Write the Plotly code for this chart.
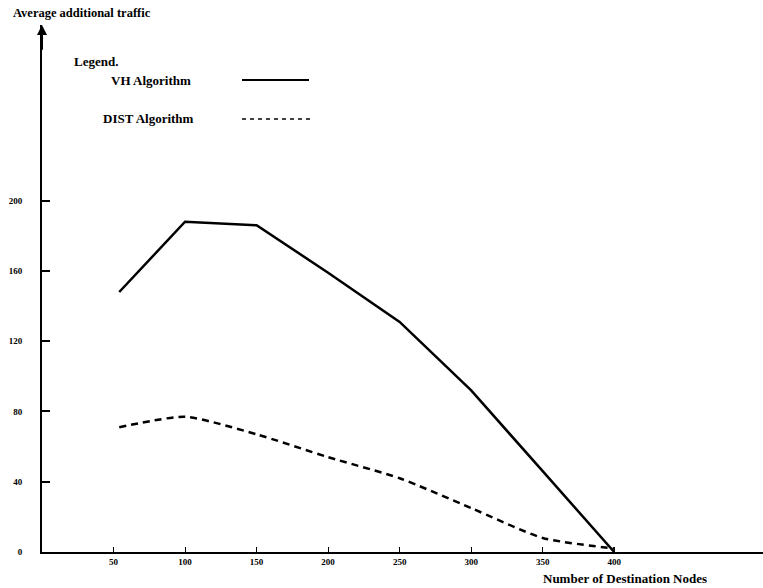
import plotly.graph_objects as go

# Data
nodes = [54, 100, 150, 200, 250, 300, 350, 400]
vh_traffic = [148, 188, 186, 159, 131, 92, 46, 0]
dist_traffic = [71, 77, 67, 54, 42, 25, 8, 2]

x_ticks = [50, 100, 150, 200, 250, 300, 350, 400]
x_tick_labels = ["<b>50</b>", "<b>100</b>", "<b>150</b>", "<b>200</b>", "<b>250</b>",
                 "<b>300</b>", "<b>350</b>", "<b>400</b>"]
y_ticks = [0, 40, 80, 120, 160, 200]
y_tick_labels = ["<b>0</b>", "<b>40</b>", "<b>80</b>", "<b>120</b>", "<b>160</b>", "<b>200</b>"]

FONT = "Liberation Serif"
W, H = 763, 588
L, R, T, B = 42, 0, 25, 36
PW, PH = W - L - R, H - T - B


def px(xp):
    return (xp - L) / PW


def py(yp):
    return (H - B - yp) / PH


fig = go.Figure()
fig.add_trace(go.Scatter(x=nodes, y=vh_traffic, mode="lines", name="VH Algorithm",
                         line=dict(color="black", width=2.5), showlegend=False))
fig.add_trace(go.Scatter(x=nodes, y=dist_traffic, mode="lines", name="DIST Algorithm",
                         line=dict(color="black", width=2.5, dash="7px,5px", shape="spline", smoothing=0.6),
                         showlegend=False))

fig.update_layout(
    width=W, height=H,
    margin=dict(l=L, r=R, t=T, b=B, autoexpand=False),
    paper_bgcolor="white", plot_bgcolor="white",
    font=dict(family=FONT, color="black", size=9),
    xaxis=dict(range=[0, 504], tickvals=x_ticks, ticktext=x_tick_labels,
               showgrid=False, zeroline=False, showline=True, linecolor="black", linewidth=2,
               ticks="inside", ticklen=5, tickwidth=1, tickcolor="black",
               tickfont=dict(family=FONT, size=9, color="black")),
    yaxis=dict(range=[0, 300], tickvals=y_ticks, ticktext=y_tick_labels,
               showgrid=False, zeroline=False, showline=True, linecolor="black", linewidth=2,
               ticks="inside", ticklen=8, tickwidth=1.5, tickcolor="black",
               ticklabelstandoff=16,
               tickfont=dict(family=FONT, size=9, color="black")),
)

# y-axis arrow head
fig.add_annotation(x=0, y=300, ax=0, ay=285, xref="x", yref="y", axref="x", ayref="y",
                   showarrow=True, arrowhead=2, arrowsize=1, arrowwidth=2, arrowcolor="black",
                   text="")

# Axis titles
fig.add_annotation(xref="paper", yref="paper", x=px(11), y=py(13),
                   text="<b>Average additional traffic</b>", showarrow=False,
                   xanchor="left", yanchor="middle", font=dict(family=FONT, size=12.5, color="black"))
fig.add_annotation(xref="paper", yref="paper", x=px(541), y=py(578),
                   text="<b>Number of Destination Nodes</b>", showarrow=False,
                   xanchor="left", yanchor="middle", font=dict(family=FONT, size=13, color="black"))

# Legend (text with line sample on the right, as in the reference)
fig.add_annotation(xref="paper", yref="paper", x=px(72), y=py(61), text="<b>Legend.</b>",
                   showarrow=False, xanchor="left", yanchor="middle",
                   font=dict(family=FONT, size=13, color="black"))
fig.add_annotation(xref="paper", yref="paper", x=px(109), y=py(81), text="<b>VH Algorithm</b>",
                   showarrow=False, xanchor="left", yanchor="middle",
                   font=dict(family=FONT, size=13, color="black"))
fig.add_annotation(xref="paper", yref="paper", x=px(101), y=py(119), text="<b>DIST Algorithm</b>",
                   showarrow=False, xanchor="left", yanchor="middle",
                   font=dict(family=FONT, size=13, color="black"))
fig.add_shape(type="line", xref="paper", yref="paper", x0=px(242), x1=px(309), y0=py(80), y1=py(80),
              line=dict(color="black", width=2))
fig.add_shape(type="line", xref="paper", yref="paper", x0=px(242), x1=px(312), y0=py(119), y1=py(119),
              line=dict(color="black", width=1.5, dash="4px,4px"))

fig.write_html("out.html", config={"displayModeBar": False},
               post_script="document.body.style.margin='0';")
